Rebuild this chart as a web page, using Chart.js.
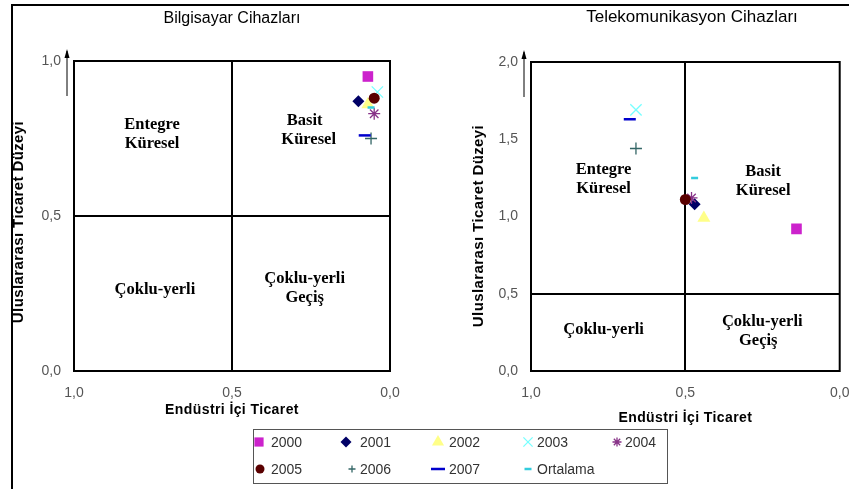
<!DOCTYPE html>
<html>
<head>
<meta charset="utf-8">
<script src="https://cdn.jsdelivr.net/npm/chart.js@4.4.0/dist/chart.umd.min.js"></script>
<style>
    html, body { margin: 0; padding: 0; background: #fff; }
    #wrap { position: relative; width: 849px; height: 489px; }
    #wrap canvas { position: absolute; left: 0; top: 0; }
</style>
</head>
<body>
<div id="wrap">
    <canvas id="pcChart" width="849" height="489"></canvas>
    <canvas id="telChart" width="849" height="489"></canvas>
</div>
<script>
// series names
const years = ['2000', '2001', '2002', '2003', '2004', '2005', '2006', '2007', 'Ortalama'];

// Bilgisayar Cihazları: x = Endüstri İçi Ticaret, y = Uluslararası Ticaret Düzeyi
const pcIntra = [0.07, 0.10, 0.07, 0.04, 0.05, 0.05, 0.06, 0.08, 0.06];
const pcLevel = [0.95, 0.87, 0.86, 0.90, 0.83, 0.88, 0.75, 0.76, 0.85];

// Telekomunikasyon Cihazları
const telIntra = [0.14, 0.47, 0.44, 0.66, 0.48, 0.50, 0.66, 0.68, 0.47];
const telLevel = [0.92, 1.08, 0.99, 1.69, 1.12, 1.11, 1.44, 1.63, 1.25];

// axis ticks
const xTicks = [1.0, 0.5, 0.0];
const pcYTicks = [0.0, 0.5, 1.0];
const telYTicks = [0.0, 0.5, 1.0, 1.5, 2.0];

// quadrant captions
const quadLabels = [['Entegre', 'Küresel'], ['Basit', 'Küresel'], ['Çoklu-yerli'], ['Çoklu-yerli', 'Geçiş']];

// marker look for each series (r = plot size, lr = legend size)
const markers = [
    { style: 'rect', color: '#CC22CC', r: 7.5, lr: 6.5, bw: 0 },
    { style: 'rectRot', color: '#000066', r: 6, lr: 5.5, bw: 0 },
    { style: 'triangle', color: '#FFFF88', r: 7.5, lr: 7, bw: 0 },
    { style: 'crossRot', color: '#77FFFF', r: 8, lr: 6.5, bw: 1.3 },
    { style: 'star', color: '#883388', r: 6, lr: 4.5, bw: 1.3 },
    { style: 'circle', color: '#5A0000', r: 5.5, lr: 4.5, bw: 0 },
    { style: 'cross', color: '#336666', r: 6, lr: 3.5, bw: 1.3 },
    { style: 'line', color: '#0000CC', r: 6, lr: 7, bw: 2.5 },
    { style: 'line', color: '#33CCDD', r: 3.5, lr: 3.5, bw: 2.5 }
];

const fmt = v => Number(v).toFixed(1).replace('.', ',');
const tickFont = { family: 'Liberation Sans, Arial', size: 14 };

function buildDatasets(xs, ys) {
    return years.map((name, i) => ({
        label: name,
        data: [{ x: xs[i], y: ys[i] }],
        pointStyle: markers[i].style,
        pointRadius: markers[i].r,
        pointHoverRadius: markers[i].r,
        backgroundColor: markers[i].color,
        borderColor: markers[i].color,
        borderWidth: markers[i].bw,
        order: years.length - i
    }));
}

function midGrid(ctx) {
    return ctx.tick && Math.abs(ctx.tick.value - 0.5) < 1e-9 ? '#000' : 'rgba(0,0,0,0)';
}

function buildScales(yMax, yTicks) {
    return {
        x: {
            type: 'linear', min: 0, max: 1, reverse: true,
            afterBuildTicks: s => { s.ticks = xTicks.map(v => ({ value: v })); },
            afterFit: s => { s.height = 40; s.paddingLeft = 0; s.paddingRight = 0; },
            ticks: { callback: fmt, font: tickFont, color: '#555', padding: 14, maxRotation: 0 },
            grid: { color: midGrid, lineWidth: 2, drawTicks: false },
            border: { display: false }
        },
        y: {
            type: 'linear', min: 0, max: yMax,
            afterBuildTicks: s => { s.ticks = yTicks.map(v => ({ value: v })); },
            afterFit: s => { s.width = 60; s.paddingTop = 0; s.paddingBottom = 0; },
            ticks: { callback: fmt, font: tickFont, color: '#555', padding: 13 },
            grid: { color: midGrid, lineWidth: 2, drawTicks: false },
            border: { display: false }
        }
    };
}

// frame, arrow, titles and quadrant captions
function decorPlugin(cfg) {
    return {
        id: 'decor',
        afterDraw(chart) {
            const ctx = chart.ctx;
            const a = chart.chartArea;
            const xs = chart.scales.x, ys = chart.scales.y;
            ctx.save();

            // plot box
            ctx.strokeStyle = '#000';
            ctx.lineWidth = 2;
            ctx.strokeRect(a.left, a.top, a.right - a.left, a.bottom - a.top);

            // arrow on y axis
            const ax = a.left - 7;
            ctx.lineWidth = 1;
            ctx.beginPath();
            ctx.moveTo(ax, a.top + 35);
            ctx.lineTo(ax, a.top - 10);
            ctx.stroke();
            ctx.fillStyle = '#000';
            ctx.beginPath();
            ctx.moveTo(ax, a.top - 12);
            ctx.lineTo(ax - 2.5, a.top - 3);
            ctx.lineTo(ax + 2.5, a.top - 3);
            ctx.closePath();
            ctx.fill();

            // quadrant captions
            ctx.fillStyle = '#000';
            ctx.font = 'bold 16.5px "Liberation Serif", "Times New Roman", serif';
            ctx.textAlign = 'center';
            ctx.textBaseline = 'middle';
            cfg.quads.forEach((q, i) => {
                const lines = quadLabels[i];
                const px = xs.getPixelForValue(q[0]);
                const py = ys.getPixelForValue(q[1]);
                lines.forEach((t, k) => {
                    ctx.fillText(t, px + (q[2] && k ? q[2] : 0), py + (k - (lines.length - 1) / 2) * 19);
                });
            });

            // chart title
            ctx.font = cfg.titleSize + 'px "Liberation Sans", Arial, sans-serif';
            ctx.fillText(cfg.title, cfg.titleX, cfg.titleY);

            // axis titles
            ctx.letterSpacing = '0.4px';
            ctx.font = 'bold 14px "Liberation Sans", Arial, sans-serif';
            ctx.fillText('Endüstri İçi Ticaret', (a.left + a.right) / 2, cfg.xTitleY);
            ctx.font = 'bold 15px "Liberation Sans", Arial, sans-serif';
            ctx.translate(cfg.yTitleX, cfg.yTitleY);
            ctx.rotate(-Math.PI / 2);
            ctx.fillText('Uluslararası Ticaret Düzeyi', 0, 0);

            ctx.restore();
        }
    };
}

// outer frame and the shared legend
const pagePlugin = {
    id: 'page',
    afterDraw(chart) {
        const ctx = chart.ctx;
        ctx.save();
        ctx.strokeStyle = '#000';
        ctx.lineWidth = 2;
        ctx.beginPath();
        ctx.moveTo(12, 489);
        ctx.lineTo(12, 5);
        ctx.lineTo(849, 5);
        ctx.stroke();

        // legend box
        ctx.lineWidth = 1;
        ctx.strokeStyle = '#555';
        ctx.strokeRect(253.5, 429.5, 414, 54);

        const cols = [[259, 346, 438, 528, 617], [260, 352, 438, 528]];
        const textX = [271, 360, 449, 537, 625];
        const rowY = [442, 469];
        ctx.font = '14px "Liberation Sans", Arial, sans-serif';
        ctx.textBaseline = 'middle';
        ctx.textAlign = 'left';
        years.forEach((name, i) => {
            const row = i < 5 ? 0 : 1;
            const col = row ? i - 5 : i;
            const m = markers[i];
            ctx.fillStyle = m.color;
            ctx.strokeStyle = m.color;
            ctx.lineWidth = m.bw;
            Chart.helpers.drawPoint(ctx, {
                pointStyle: m.style,
                radius: m.lr,
                rotation: 0,
                borderWidth: m.bw
            }, cols[row][col], rowY[row]);
            ctx.fillStyle = '#333';
            ctx.fillText(name, textX[col], rowY[row] + 1);
        });
        ctx.restore();
    }
};

function makeChart(id, xs, ys, yMax, yTicks, pad, decor, extra) {
    return new Chart(document.getElementById(id).getContext('2d'), {
        type: 'scatter',
        data: { datasets: buildDatasets(xs, ys) },
        options: {
            responsive: false,
            animation: false,
            layout: { padding: pad },
            scales: buildScales(yMax, yTicks),
            plugins: { legend: { display: false }, tooltip: { enabled: false } },
            events: []
        },
        plugins: [decorPlugin(decor)].concat(extra)
    });
}

makeChart('pcChart', pcIntra, pcLevel, 1, pcYTicks,
    { left: 14, right: 459, top: 61, bottom: 78 },
    {
        title: 'Bilgisayar Cihazları', titleSize: 16, titleX: 232, titleY: 19,
        xTitleY: 410, yTitleX: 19, yTitleY: 222,
        quads: [[0.753, 0.765], [0.27, 0.777, 4], [0.744, 0.261], [0.27, 0.268]]
    }, [pagePlugin]);

makeChart('telChart', telIntra, telLevel, 2, telYTicks,
    { left: 471, right: 7, top: 62, bottom: 78 },
    {
        title: 'Telekomunikasyon Cihazları', titleSize: 17, titleX: 692, titleY: 17,
        xTitleY: 418, yTitleX: 479, yTitleY: 226,
        quads: [[0.765, 1.238], [0.248, 1.231], [0.765, 0.266], [0.251, 0.259, -4]]
    }, []);
</script>
</body>
</html>
